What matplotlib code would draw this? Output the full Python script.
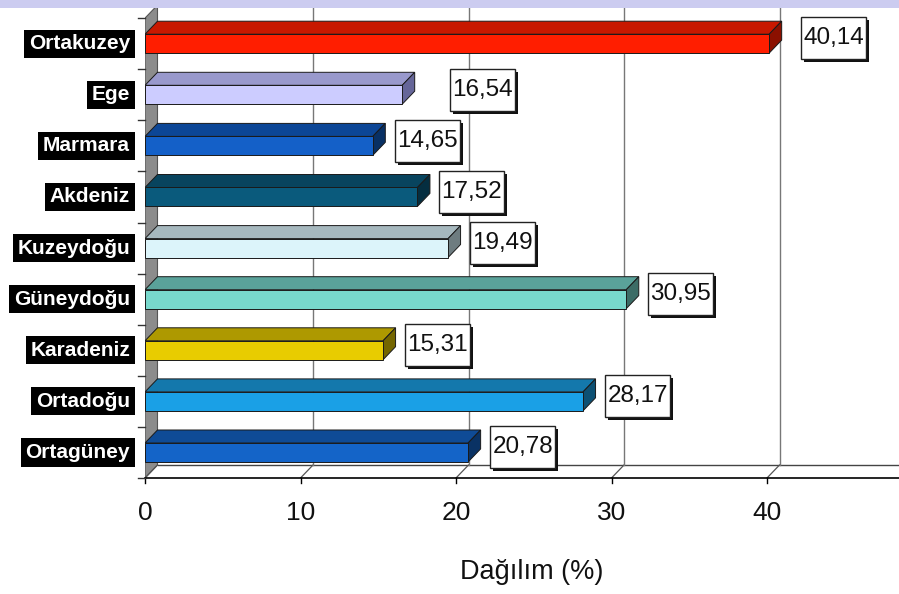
import matplotlib
matplotlib.use('Agg')
import matplotlib.pyplot as plt
from matplotlib.patches import Polygon, Rectangle
from matplotlib import transforms

# data, top to bottom as in the chart
categories = ['Ortakuzey', 'Ege', 'Marmara', 'Akdeniz', 'Kuzeydoğu',
              'Güneydoğu', 'Karadeniz', 'Ortadoğu', 'Ortagüney']
values = [40.14, 16.54, 14.65, 17.52, 19.49, 30.95, 15.31, 28.17, 20.78]
ticks = [0, 10, 20, 30, 40]
xlabel = 'Dağılım (%)'

# colours per bar: front, top, side
front = ['#FF1E00', '#CCCCFF', '#1460C8', '#0A5A7C', '#DCF4FA',
         '#78D8CC', '#E8CC00', '#1AA0E6', '#1464C8']
top = ['#C81800', '#9999CC', '#0C4696', '#08445E', '#A6B8BE',
       '#5AA29A', '#AE9900', '#1478AC', '#0F4B96']
side = ['#8B1000', '#666699', '#083064', '#052E40', '#6E7C80',
        '#3C6C66', '#746600', '#0D5073', '#0A3264']
# extra horizontal shift (px) of value boxes
nudge = [10, 26, 0, 0, 0, 0, 0, 0, 0]

W, H = 899, 594
fig = plt.figure(figsize=(W / 100, H / 100), dpi=100)
fig.patch.set_facecolor('white')

x0_px, floor_px, per_unit, per_cat = 145, 478, 15.55, 51.1
ax = fig.add_axes([x0_px / W, (H - floor_px) / H, (W - x0_px) / W, floor_px / H])
ax.set_xlim(0, (W - x0_px) / per_unit)
ax.set_ylim(0, floor_px / per_cat)
ax.axis('off')

n = len(categories)
dx = 12.5 / per_unit
dy = 13.0 / per_cat
bh = 0.37
ytop = n
xmax = (W - x0_px) / per_unit
font = ['Liberation Sans', 'DejaVu Sans']

# left wall
ax.add_patch(Polygon([(0, 0), (dx, dy), (dx, ytop + dy), (0, ytop)],
                     closed=True, facecolor='#8C8C8C', edgecolor='#555555',
                     lw=0.8, zorder=1))
# floor lines
ax.plot([0, xmax], [0, 0], color='black', lw=1.2, zorder=2, clip_on=False)
ax.plot([dx, xmax], [dy, dy], color='#444444', lw=1.0, zorder=1)
for t in ticks:
    ax.plot([t, t + dx], [0, dy], color='#555555', lw=0.9, zorder=1)
    if t > 0:
        ax.plot([t + dx, t + dx], [dy, ytop + dy], color='#777777', lw=1.0, zorder=1)
    ax.plot([t, t], [0, -5 / per_cat], color='black', lw=1.0, zorder=2, clip_on=False)
    ax.text(t, -35 / per_cat, str(t), ha='center', va='center', fontsize=19,
            family=font, color='#111111', clip_on=False)

# category tick marks on the left
for k in range(n + 1):
    ax.plot([-7 / per_unit, 0], [k, k], color='#333333', lw=1.0, clip_on=False, zorder=2)

off = transforms.offset_copy(ax.transData, fig=fig, x=-15, y=0, units='dots')
for i, (cat, v) in enumerate(zip(categories, values)):
    c = n - i - 0.5
    y0, y1 = c - bh / 2, c + bh / 2
    ax.add_patch(Polygon([(0, y1), (v, y1), (v + dx, y1 + dy), (dx, y1 + dy)],
                         closed=True, facecolor=top[i], edgecolor='#1A1A1A', lw=0.7, zorder=3))
    ax.add_patch(Polygon([(v, y0), (v + dx, y0 + dy), (v + dx, y1 + dy), (v, y1)],
                         closed=True, facecolor=side[i], edgecolor='#1A1A1A', lw=0.7, zorder=3))
    ax.add_patch(Rectangle((0, y0), v, bh, facecolor=front[i],
                           edgecolor='#1A1A1A', lw=0.7, zorder=4))

    # category label: white bold on black
    ax.text(0, c, cat, transform=off, ha='right', va='center', fontsize=15,
            fontweight='bold', family=font, color='white', clip_on=False,
            bbox=dict(boxstyle='square,pad=0.22', facecolor='black', edgecolor='none'))

    # value box with shadow, sized in pixels next to the bar end
    px = transforms.ScaledTranslation(v, c + dy * 0.4, ax.transData)
    left, bw, bhp = 22 + nudge[i], 65, 42
    ax.add_patch(Rectangle((left + 3, -bhp / 2 - 3), bw, bhp, transform=px,
                           facecolor='#111111', edgecolor='none', zorder=5, clip_on=False))
    ax.add_patch(Rectangle((left, -bhp / 2), bw, bhp, transform=px,
                           facecolor='white', edgecolor='#222222', lw=1.0,
                           zorder=6, clip_on=False))
    ax.text(left + bw / 2, 0, f'{v:.2f}'.replace('.', ','), transform=px,
            ha='center', va='center', fontsize=17.5, family=font,
            color='#111111', zorder=7, clip_on=False)

fig.text(532 / W, 1 - 572 / H, xlabel, ha='center', va='center', fontsize=19.5,
         family=font, color='#111111')

# lavender band at top of slide
fig.patches.append(Rectangle((0, 1 - 8 / H), 1, 8 / H, transform=fig.transFigure,
                             facecolor='#CCCCF0', edgecolor='none', zorder=10))

fig.savefig('out.png', dpi=100)
